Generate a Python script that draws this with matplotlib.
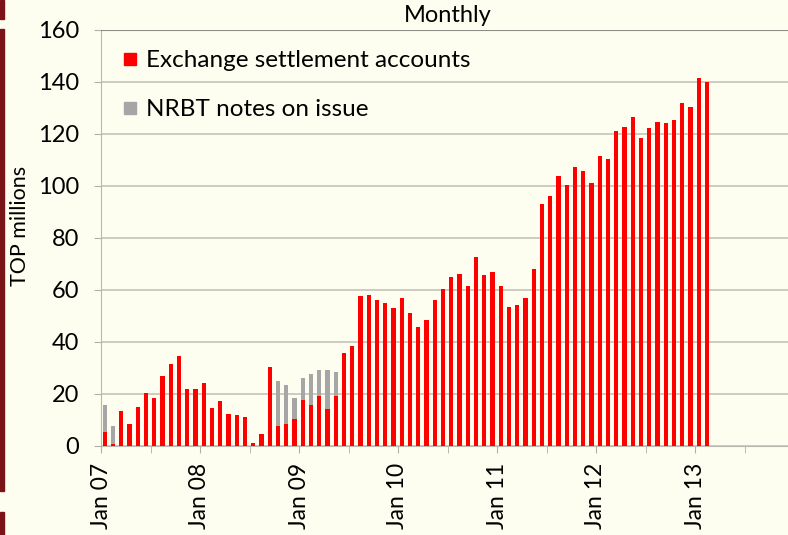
import matplotlib
matplotlib.use("Agg")
import matplotlib.pyplot as plt
from matplotlib.lines import Line2D
from matplotlib.patches import Rectangle

plt.rcParams["font.family"] = ["Lato", "DejaVu Sans"]

# monthly data, Jan 2007 .. Feb 2013 (TOP millions)
total = [15.9, 7.7, 13.3, 8.4, 15.1, 20.5, 18.6, 27.0, 31.6, 34.8, 21.9, 21.8,
         24.4, 14.5, 17.3, 12.5, 12.0, 11.0, 1.2, 4.5, 30.5, 24.9, 23.5, 18.5,
         26.1, 27.7, 29.2, 29.2, 28.3, 35.9, 38.6, 57.6, 58.2, 56.1, 54.9, 52.9,
         56.9, 51.2, 45.6, 48.6, 56.0, 60.3, 65.0, 66.0, 61.6, 72.6, 65.7, 67.0,
         61.6, 53.3, 54.1, 57.0, 68.0, 93.1, 96.1, 103.8, 100.5, 107.3, 105.8, 101.1,
         111.4, 110.4, 121.3, 122.8, 126.6, 118.5, 122.2, 124.6, 124.2, 125.2, 131.8, 130.3,
         141.7, 140.0]
esa = [5.5, 0.6, 13.3, 8.4, 15.1, 20.5, 18.6, 27.0, 31.6, 34.8, 21.9, 21.8,
       24.4, 14.5, 17.3, 12.5, 12.0, 11.0, 1.2, 4.5, 30.5, 7.6, 8.5, 10.3,
       17.8, 15.7, 19.1, 14.3, 19.1, 35.9, 38.6, 57.6, 58.2, 56.1, 54.9, 52.9,
       56.9, 51.2, 45.6, 48.6, 56.0, 60.3, 65.0, 66.0, 61.6, 72.6, 65.7, 67.0,
       61.6, 53.3, 54.1, 57.0, 68.0, 93.1, 96.1, 103.8, 100.5, 107.3, 105.8, 101.1,
       111.4, 110.4, 121.3, 122.8, 126.6, 118.5, 122.2, 124.6, 124.2, 125.2, 131.8, 130.3,
       141.7, 140.0]
notes = [t - e for t, e in zip(total, esa)]
year_labels = ["Jan 07", "Jan 08", "Jan 09", "Jan 10", "Jan 11", "Jan 12", "Jan 13", ""]

BG = "#fefef0"
RED = "#ff0000"
GREY = "#a6a6a6"

fig = plt.figure(figsize=(7.88, 5.35), dpi=100, facecolor=BG)
ax = fig.add_axes([101 / 788, 1 - 446 / 535, 693 / 788, 416 / 535], facecolor=BG)

x = [i + 0.45 for i in range(len(total))]
ax.bar(x, esa, width=0.52, color=RED, zorder=3)
ax.bar(x, notes, width=0.52, bottom=esa, color=GREY, zorder=3)

ax.set_xlim(0, 84)
ax.set_ylim(0, 160)
ax.set_yticks(range(0, 161, 20))
ax.grid(axis="y", color="#c4c4bc", linewidth=1.2, zorder=0)
ax.set_xticks(range(0, 85, 12))
ax.set_xticklabels(year_labels, rotation=90, fontsize=16.5)
ax.set_xticks(range(6, 85, 12), minor=True)
ax.tick_params(axis="x", which="both", length=5, color="#b0b0a8", pad=7)
ax.tick_params(axis="y", length=5, color="#b0b0a8", labelsize=17, pad=11)
for s in ["top", "right"]:
    ax.spines[s].set_visible(False)
for s in ["left", "bottom"]:
    ax.spines[s].set_color("#b8b8b0")
ax.axhline(160, color="#8c8c84", linewidth=1.5, zorder=4)
ax.set_ylabel("TOP millions", fontsize=15.5)
ax.yaxis.set_label_coords(-0.102, 0.53)

fig.text(448 / 788, 1 - 16 / 535, "Monthly", ha="center", va="center", fontsize=17)

handles = [
    Line2D([], [], marker="s", linestyle="none", markersize=9, color=RED),
    Line2D([], [], marker="s", linestyle="none", markersize=9, color=GREY),
]
ax.legend(handles, ["Exchange settlement accounts", "NRBT notes on issue"],
          loc="upper left", bbox_to_anchor=(-0.002, 1.004), frameon=False,
          fontsize=17.5, labelspacing=1.15, handlelength=0.7, handletextpad=0.3)

# dark red page border on the left
for y0, y1 in [(0, 19), (29, 491), (512, 535)]:
    fig.patches.append(Rectangle((0, 1 - y1 / 535), 4 / 788, (y1 - y0) / 535,
                                 transform=fig.transFigure, color="#7b1416"))

fig.savefig("out.png", dpi=100, facecolor=BG)
